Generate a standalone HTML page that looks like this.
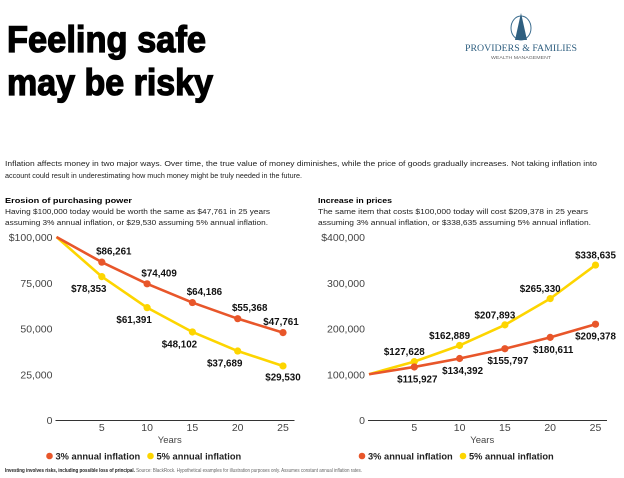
<!DOCTYPE html>
<html><head><meta charset="utf-8"><style>
html,body{margin:0;padding:0;background:#fff;}
svg{display:block;font-family:"Liberation Sans",sans-serif;}
</style></head><body>
<svg id="s" width="624" height="478" viewBox="0 0 624 478" xmlns="http://www.w3.org/2000/svg">
<g font-weight="bold" font-size="37" fill="#000" stroke="#000" stroke-width="1.3">
<text x="7" y="52" textLength="199" lengthAdjust="spacingAndGlyphs">Feeling safe</text>
<text x="7" y="95" textLength="206" lengthAdjust="spacingAndGlyphs">may be risky</text>
</g>
<g>
<ellipse cx="521" cy="28" rx="10" ry="12" fill="none" stroke="#3d6e90" stroke-width="1"/>
<path d="M521 13 L527 40 L515 40 Z" fill="#2f5f80"/>
<text x="521" y="51" text-anchor="middle" font-family="Liberation Serif,serif" font-size="9.5" fill="#2f5f80" textLength="112" lengthAdjust="spacingAndGlyphs">PROVIDERS &amp; FAMILIES</text>
<text x="521" y="59" text-anchor="middle" font-size="4.5" fill="#666" textLength="60" lengthAdjust="spacingAndGlyphs">WEALTH MANAGEMENT</text>
</g>
<g font-size="7.6" fill="#222">
<text x="5" y="166" textLength="592" lengthAdjust="spacingAndGlyphs">Inflation affects money in two major ways. Over time, the true value of money diminishes, while the price of goods gradually increases. Not taking inflation into</text>
<text x="5" y="178" textLength="297" lengthAdjust="spacingAndGlyphs">account could result in underestimating how much money might be truly needed in the future.</text>
</g>
<g font-size="7.6" fill="#222">
<text x="5" y="203" font-weight="bold" fill="#000" textLength="127" lengthAdjust="spacingAndGlyphs">Erosion of purchasing power</text>
<text x="5" y="214" textLength="265" lengthAdjust="spacingAndGlyphs">Having $100,000 today would be worth the same as $47,761 in 25 years</text>
<text x="5" y="225" textLength="263" lengthAdjust="spacingAndGlyphs">assuming 3% annual inflation, or $29,530 assuming 5% annual inflation.</text>
<text x="318" y="203" font-weight="bold" fill="#000" textLength="74" lengthAdjust="spacingAndGlyphs">Increase in prices</text>
<text x="318" y="214" textLength="270" lengthAdjust="spacingAndGlyphs">The same item that costs $100,000 today will cost $209,378 in 25 years</text>
<text x="318" y="225" textLength="273" lengthAdjust="spacingAndGlyphs">assuming 3% annual inflation, or $338,635 assuming 5% annual inflation.</text>
</g>
<text x="5" y="472" font-size="5.2" fill="#666" textLength="357" lengthAdjust="spacingAndGlyphs"><tspan font-weight="bold" fill="#222">Investing involves risks, including possible loss of principal.</tspan> Source: BlackRock. Hypothetical examples for illustration purposes only. Assumes constant annual inflation rates.</text>
<g id="charts"></g>
</svg>
<script>
const years=[0,5,10,15,20,25];
const xTicks=[5,10,15,20,25];
const leftSeries3=[100000,86261,74409,64186,55368,47761];
const leftSeries5=[100000,78353,61391,48102,37689,29530];
const leftTicks=[0,25000,50000,75000,100000];
const leftTickLabels=["0","25,000","50,000","75,000","$100,000"];
const rightSeries3=[100000,115927,134392,155797,180611,209378];
const rightSeries5=[100000,127628,162889,207893,265330,338635];
const rightTicks=[0,100000,200000,300000,400000];
const rightTickLabels=["0","100,000","200,000","300,000","$400,000"];
const ORANGE="#e8562a",YELLOW="#fdd500";
const NS="http://www.w3.org/2000/svg";
const root=document.getElementById('charts');
function el(tag,attrs,parent){const e=document.createElementNS(NS,tag);for(const k in attrs)e.setAttribute(k,attrs[k]);(parent||root).appendChild(e);return e;}
function fmt(v){return "$"+v.toLocaleString("en-US");}
function chart(name,x0,yMax,ticks,tickLabels,s3,s5,off3,off5,last3,last5){
  const g=el('g',{});
  
  
  const xs=v=>x0+v*9.06, ys=v=>420-v/yMax*183;
  ticks.forEach((t,i)=>{const tx=el('text',{x:x0-4,y:ys(t)+4,'text-anchor':'end','font-size':'10.5',fill:'#444'},g);tx.textContent=tickLabels[i];
    
    });
  const ax=el('line',{x1:x0-1,x2:x0+238,y1:420.5,y2:420.5,stroke:'#333','stroke-width':'1'},g);
  
  
  xTicks.forEach(t=>{const tx=el('text',{x:xs(t),y:431,'text-anchor':'middle','font-size':'10.5',fill:'#444'},g);tx.textContent=t;
    
    });
  const yl=el('text',{x:xs(12.5),y:443,'text-anchor':'middle','font-size':'9.5',fill:'#444'},g);yl.textContent='Years';
  
  
  [[s5,YELLOW,off5,last5,'series-5pct'],[s3,ORANGE,off3,last3,'series-3pct']].forEach(([s,c,off,last,nm])=>{
    const pl=el('polyline',{points:s.map((v,i)=>xs(years[i])+','+ys(v)).join(' '),fill:'none',stroke:c,'stroke-width':'2.6','stroke-linejoin':'round'},g);
    
    
    s.forEach((v,i)=>{if(i===0)return;
      const p=el('circle',{cx:xs(years[i]),cy:ys(v),r:3.6,fill:c},g);
      
      
      const o=(i===s.length-1)?last:off;
      const t=el('text',{x:xs(years[i])+o[0],y:ys(v)+o[1]+3.5,'text-anchor':'middle','font-size':'9.8','font-weight':'bold',fill:'#111'},g);
      t.textContent=fmt(v);
      
      
    });
  });
  const lg=el('g',{},g);
  
  
  [[ORANGE,'3% annual inflation',x0-7],[YELLOW,'5% annual inflation',x0+94]].forEach(([c,l,lx])=>{
    el('circle',{cx:lx,cy:456,r:3.3,fill:c},lg);
    const t=el('text',{x:lx+6,y:459.5,'font-size':'9.3','font-weight':'bold',fill:'#222'},lg);t.textContent=l;
    
    
  });
}
chart('left-chart-erosion',56.5,100000,leftTicks,leftTickLabels,leftSeries3,leftSeries5,[12,-11],[-13,12],[-2,-11],[0,11]);
chart('right-chart-prices',369,400000,rightTicks,rightTickLabels,rightSeries3,rightSeries5,[3,12],[-10,-10],[0,12],[0,-10]);
</script>
</body></html>
